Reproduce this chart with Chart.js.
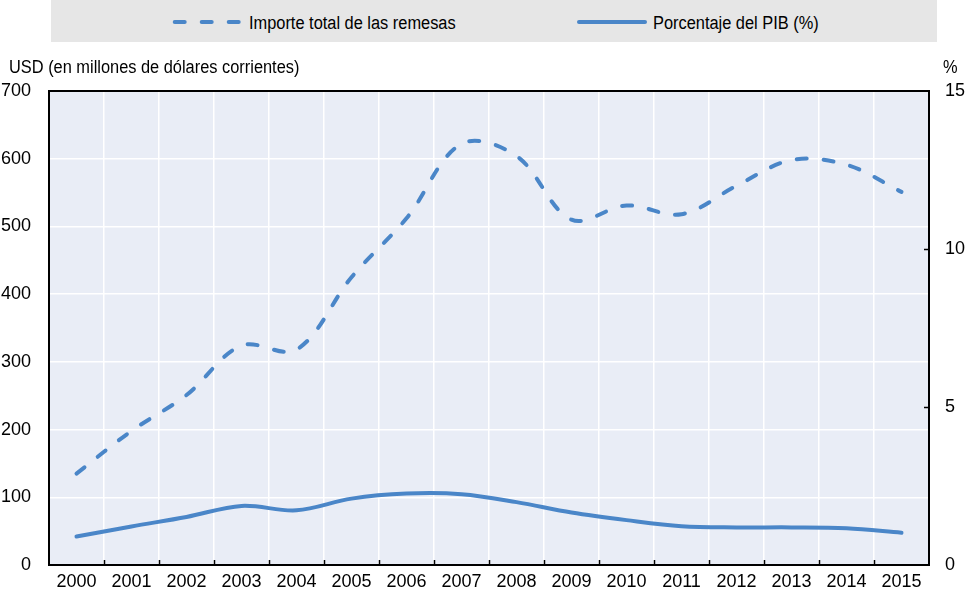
<!DOCTYPE html>
<html>
<head>
<meta charset="utf-8">
<script src="https://cdn.jsdelivr.net/npm/chart.js@4.4.0/dist/chart.umd.min.js"></script>
<style>
  body { margin: 0; background: #fff; }
  #wrap { position: relative; width: 973px; height: 594px; font-family: "Liberation Sans", Arial, sans-serif; font-size: 18px; color: #000; }
  #legend { position: absolute; left: 51px; top: 0; width: 886px; height: 42px; background: #e6e6e6; }
  .txt { position: absolute; white-space: nowrap; line-height: 22px; transform: scaleX(0.91); transform-origin: 0 50%; }
  svg { position: absolute; }
  canvas { position: absolute; left: 0; top: 0; }
</style>
</head>
<body>
<div id="wrap">
  <canvas id="remesasChart" width="973" height="594"></canvas>
  <div id="legend"></div>
  <svg style="left:170px; top:19px" width="76" height="6"><line x1="4.7" y1="3" x2="69" y2="3" stroke="#4a86c8" stroke-width="4" stroke-dasharray="10 17" stroke-linecap="round"/></svg>
  <div class="txt" style="left:249px; top:12px">Importe total de las remesas</div>
  <svg style="left:575px; top:19px" width="76" height="6"><line x1="4" y1="3" x2="70" y2="3" stroke="#4a86c8" stroke-width="4" stroke-linecap="round"/></svg>
  <div class="txt" style="left:653px; top:12px">Porcentaje del PIB (%)</div>
  <div class="txt" style="left:9px; top:56px">USD (en millones de dólares corrientes)</div>
  <div class="txt" style="left:943px; top:56px">%</div>
</div>
<script>
const years = ['2000', '2001', '2002', '2003', '2004', '2005', '2006', '2007',
  '2008', '2009', '2010', '2011', '2012', '2013', '2014', '2015'];
const remesas = [135, 198, 251, 324, 318, 425, 512, 622, 604, 510, 531, 518, 560, 598, 591, 551];
const pctPib = [0.90, 1.22, 1.52, 1.87, 1.73, 2.10, 2.26, 2.24, 1.99, 1.66, 1.42, 1.23, 1.19, 1.19, 1.16, 1.02];
const usdTicks = [0, 100, 200, 300, 400, 500, 600, 700];
const pctTicks = [0, 5, 10, 15];

const blue = '#4a86c8';
const font = { family: '"Liberation Sans", Arial, sans-serif', size: 18 };

const framePlugin = {
  id: 'frame',
  beforeDraw(chart) {
    const { ctx, chartArea: a } = chart;
    ctx.save();
    ctx.fillStyle = '#e9edf6';
    ctx.fillRect(a.left, a.top, a.right - a.left, a.bottom - a.top);
    ctx.restore();
  },
  afterDatasetsDraw(chart) {
    const { ctx, chartArea: a, scales } = chart;
    ctx.save();
    ctx.strokeStyle = '#000';
    ctx.lineWidth = 1.5;
    // small inward ticks between the years
    const x = scales.x;
    const half = (x.getPixelForValue(1) - x.getPixelForValue(0)) / 2;
    for (let i = 1; i < years.length; i++) {
      const px = Math.round(x.getPixelForValue(i) - half) + 0.5;
      ctx.beginPath();
      ctx.moveTo(px, a.bottom);
      ctx.lineTo(px, a.bottom - 5);
      ctx.stroke();
    }
    // inward ticks on the % axis
    const yr = scales.y1;
    pctTicks.slice(1, -1).forEach(v => {
      const py = Math.round(yr.getPixelForValue(v)) + 0.5;
      ctx.beginPath();
      ctx.moveTo(a.right, py);
      ctx.lineTo(a.right - 5, py);
      ctx.stroke();
    });
    ctx.lineWidth = 2;
    ctx.strokeRect(a.left, a.top, a.right - a.left, a.bottom - a.top);
    ctx.restore();
  }
};

new Chart('remesasChart', {
  type: 'line',
  data: {
    labels: years,
    datasets: [
      {
        label: 'Importe total de las remesas',
        data: remesas,
        yAxisID: 'y',
        borderColor: blue,
        borderWidth: 4,
        borderDash: [10, 17],
        borderCapStyle: 'round',
        pointRadius: 0,
        tension: 0.35,
        fill: false,
      },
      {
        label: 'Porcentaje del PIB (%)',
        data: pctPib,
        yAxisID: 'y1',
        borderColor: blue,
        borderWidth: 4,
        borderCapStyle: 'round',
        pointRadius: 0,
        tension: 0.35,
        fill: false,
      },
    ],
  },
  options: {
    responsive: false,
    animation: false,
    layout: { padding: { top: 91, left: 0, right: 0, bottom: 0 } },
    plugins: { legend: { display: false }, tooltip: { enabled: false } },
    scales: {
      x: {
        offset: true,
        grid: { offset: true, color: '#ffffff', lineWidth: 1.5, drawTicks: false },
        border: { display: false },
        ticks: { color: '#000', font, padding: 6, maxRotation: 0, autoSkip: false },
        afterFit(scale) { scale.height = 29; },
      },
      y: {
        position: 'left',
        min: 0,
        max: 700,
        afterBuildTicks(scale) { scale.ticks = usdTicks.map(v => ({ value: v })); },
        grid: { color: '#ffffff', lineWidth: 1.5, drawTicks: false },
        border: { display: false },
        ticks: { color: '#000', font, padding: 18 },
        afterFit(scale) { scale.width = 49; },
      },
      y1: {
        position: 'right',
        min: 0,
        max: 15,
        afterBuildTicks(scale) { scale.ticks = pctTicks.map(v => ({ value: v })); },
        grid: { display: false, drawTicks: false },
        border: { display: false },
        ticks: { color: '#000', font, padding: 16 },
        afterFit(scale) { scale.width = 44; },
      },
    },
  },
  plugins: [framePlugin],
});
</script>
</body>
</html>
